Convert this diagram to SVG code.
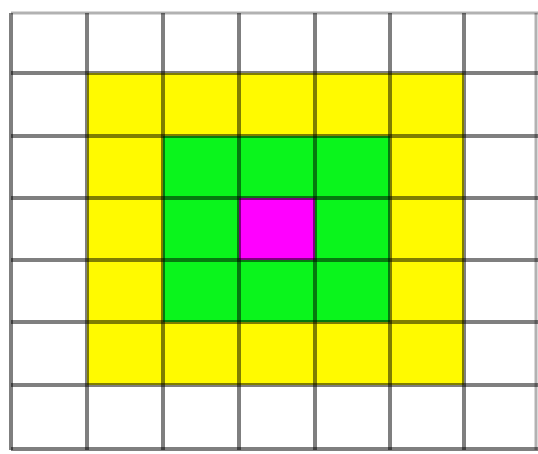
<svg xmlns="http://www.w3.org/2000/svg" width="538" height="454" viewBox="0 0 538 454">
<style>
.bg{fill:#ffffff}
.y{fill:#fffa00}
.g{fill:#0af51c}
.m{fill:#ff00ff}
.ln{stroke:#000;stroke-opacity:0.5;stroke-width:4;fill:none}
.lt{stroke:#000;stroke-opacity:0.3;stroke-width:3;fill:none}
</style>
<rect class="bg" x="0" y="0" width="538" height="454"/>
<g id="cells">
<rect class="y" x="87" y="73" width="377" height="312"/>
<rect class="g" x="163" y="136" width="227" height="186"/>
<rect class="m" x="239" y="198" width="76" height="62"/>
</g>
<g id="grid">
<path class="lt" d="M11 13H538"/>
<path class="ln" d="M11 13V450M87 13V450M163 13V450M239 13V450M315 13V450M390 13V450M464 13V450"/>
<path class="lt" d="M536 13V450"/>
<path class="ln" d="M11 73H538M11 136H538M11 198H538M11 260H538M11 322H538M11 385H538M11 449H538"/>
</g>
</svg>
